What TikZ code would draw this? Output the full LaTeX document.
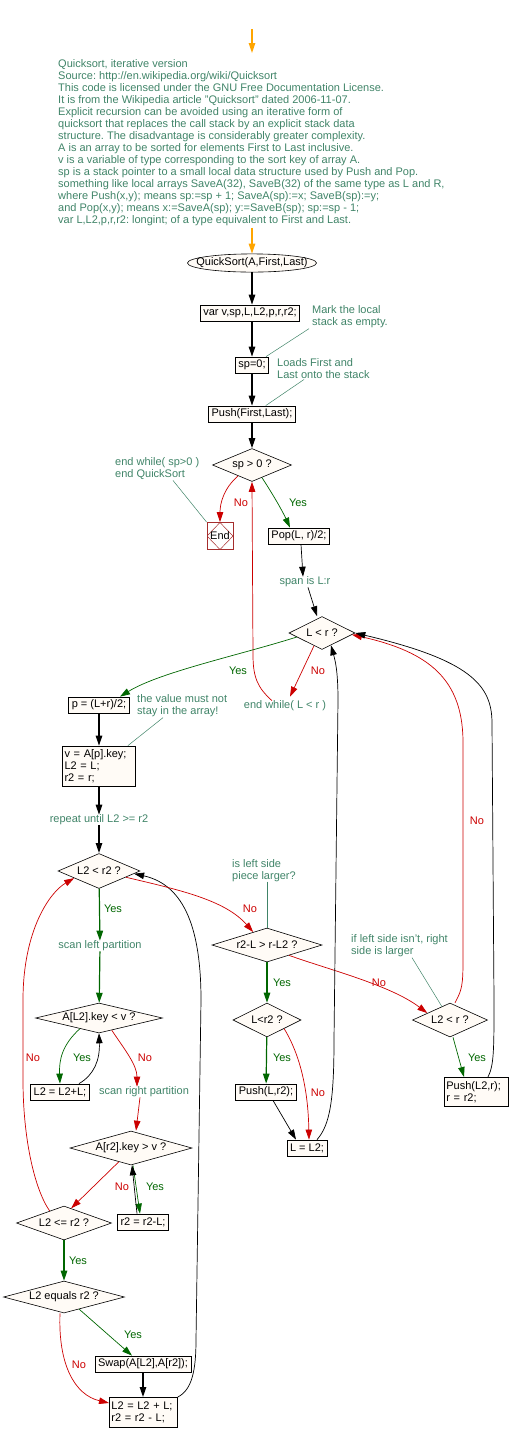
\documentclass[tikz,border=0pt]{standalone}
\usepackage{fontspec}
\setmainfont{Liberation Sans}
\usetikzlibrary{shapes.geometric,arrows.meta,calc}
\frenchspacing
\definecolor{notecol}{RGB}{64,132,104}
\definecolor{yescol}{RGB}{0,102,0}
\definecolor{nocol}{RGB}{204,0,0}
\definecolor{boxfill}{RGB}{255,251,246}
\definecolor{endcol}{RGB}{165,45,45}
\definecolor{startcol}{RGB}{255,165,0}
\tikzset{
  tip/.style={-{Triangle[length=10pt,width=6.5pt]}},
  proc/.style={draw,fill=boxfill,line width=0.8pt,inner xsep=3pt,inner ysep=2pt,minimum height=16pt},
  dec/.style={draw,diamond,fill=boxfill,line width=0.6pt,inner sep=0pt,aspect=3},
  note/.style={text=notecol,inner sep=0pt,align=left},
  yeslab/.style={text=yescol,inner sep=0pt},
  nolab/.style={text=nocol,inner sep=0pt},
  flow/.style={tip,line width=1.2pt},
  flowthin/.style={tip,line width=0.7pt},
  yesline/.style={tip,yescol,line width=0.7pt},
  noline/.style={tip,nocol,line width=0.7pt},
  leader/.style={notecol,line width=0.5pt}
}
\begin{document}
\begin{tikzpicture}[x=1pt,y=-1pt,font=\fontsize{11}{12}\selectfont]
\useasboundingbox (0,0) rectangle (510,1441);

% header and entry
\coordinate (entry) at (252,29);
\node[note,anchor=north west] (hdr) at (58,59) {Quicksort, iterative version\\
Source: http://en.wikipedia.org/wiki/Quicksort\\
This code is licensed under the GNU Free Documentation License.\\
It is from the Wikipedia article "Quicksort" dated 2006-11-07.\\
Explicit recursion can be avoided using an iterative form of\\
quicksort that replaces the call stack by an explicit stack data\\
structure. The disadvantage is considerably greater complexity.\\
A is an array to be sorted for elements First to Last inclusive.\\
v is a variable of type corresponding to the sort key of array A.\\
sp is a stack pointer to a small local data structure used by Push and Pop.\\
something like local arrays SaveA(32), SaveB(32) of the same type as L and R,\\
where Push(x,y); means sp:=sp + 1; SaveA(sp):=x; SaveB(sp):=y;\\
and Pop(x,y); means x:=SaveA(sp); y:=SaveB(sp); sp:=sp - 1;\\
var L,L2,p,r,r2: longint; of a type equivalent to First and Last.};
\node[draw,ellipse,fill=boxfill,line width=0.6pt,inner xsep=-10pt,inner ysep=1.3pt] (qs) at (252,263) {QuickSort(A,First,Last)};
\draw[tip,startcol,line width=1.2pt,shorten >=6pt] (entry) -- (entry |- hdr.north);
\draw[tip,startcol,line width=1.2pt,shorten <=2pt] (hdr.south -| qs.north) -- (qs.north);

% main column
\node[proc] (var) at (250,313) {var v,sp,L,L2,p,r,r2;};
\node[proc] (sp0) at (252,365) {sp=0;};
\node[proc] (push) at (252,414) {Push(First,Last);};
\node[dec,minimum width=79pt,minimum height=33pt] (spgt) at (252,465) {sp > 0 ?};
\node[draw=endcol,line width=0.8pt,minimum width=26pt,minimum height=27pt,inner sep=0pt,
  path picture={\draw[endcol,line width=0.5pt] (path picture bounding box.north) -- (path picture bounding box.east)
  -- (path picture bounding box.south) -- (path picture bounding box.west) -- cycle;}] (endn) at (220,536) {End};
\node[proc] (pop) at (299,536) {Pop(L, r)/2;};
\node[note] (span) at (305,582) {span is L:r};
\node[dec,minimum width=66pt,minimum height=33pt] (lr) at (322,633) {L < r ?};
\node[note] (ewlr) at (285,706) {end while( L < r )};

\node[note,anchor=north west] (nmark) at (312,305) {Mark the local\\stack as empty.};
\node[note,anchor=north west] (nload) at (277,358) {Loads First and\\Last onto the stack};
\node[note,anchor=north west] (nend) at (115,457) {end while( sp>0 )\\end QuickSort};
\draw[leader] ([xshift=-3pt,yshift=-1pt]nmark.south west) -- ([xshift=-3pt]sp0.north east);
\draw[leader] ([xshift=27pt,yshift=-1pt]nload.south west) -- ([xshift=-30pt]push.north east);
\draw[leader] ([xshift=58pt,yshift=-1pt]nend.south west) -- (endn.north west);

\draw[flow] (qs.south) -- (qs.south |- var.north);
\draw[flow] (var.south -| sp0.north) -- (sp0.north);
\draw[flow] (sp0) -- (push);
\draw[flow] (push) -- (spgt);
\draw[noline] ($(spgt.west)!0.65!(spgt.south)$) .. controls (224,488) and (220,503) .. (endn.north);
\node[nolab] (no1) at (241,503) {No};
\draw[yesline] ($(spgt.south)!0.25!(spgt.east)$) .. controls (272,493) and (282,510) .. ([xshift=-9pt]pop.north);
\node[yeslab] (yes1) at (298,503) {Yes};
\draw[flowthin] ([xshift=2pt]pop.south) -- ([xshift=-2pt]span.north);
\draw[flowthin] ([xshift=3pt]span.south) -- ([xshift=-5pt]lr.north);
\draw[noline] ([xshift=-13pt]ewlr.north) .. controls (258,688) and (253,678) .. (253,655) -- (spgt.south);

% partition setup
\node[proc] (pbox) at (99,705) {p = (L+r)/2;};
\node[proc,align=left,inner xsep=2pt,text width=69pt,minimum height=40pt] (vbox) at (99,766) {v = A[p].key;\\L2 = L;\\r2 = r;};
\node[note] (rep) at (99,820) {repeat until L2 >= r2};
\node[note,anchor=north west] (nval) at (137,694) {the value must not\\stay in the array!};
\draw[leader] ([xshift=26pt,yshift=-1pt]nval.south west) -- ([xshift=-8pt]vbox.north east);
\draw[yesline] ($(lr.west)!0.24!(lr.south)$) .. controls (240,655) and (160,672) .. ([xshift=21pt]pbox.north);
\node[yeslab] (yes2) at (238,671) {Yes};
\draw[noline] ($(lr.west)!0.76!(lr.south)$) -- ([xshift=5pt,yshift=4pt]ewlr.north);
\node[nolab] (no2) at (318,671) {No};
\draw[flow] (pbox) -- (vbox);
\draw[flow] (vbox) -- (rep);
\draw[flow] (rep) -- (rep.south |- 0,853);

% scan loop
\node[dec,minimum width=82pt,minimum height=35pt] (l2r2) at (99,871) {L2 < r2 ?};
\node[note] (scanl) at (100,946) {scan left partition};
\node[dec,aspect=4,minimum width=127pt,minimum height=30pt] (al2) at (99,1018) {A[L2].key < v ?};
\node[proc] (l2inc) at (60,1092) {L2 = L2+L;};
\node[note] (scanr) at (144,1092) {scan right partition};
\node[dec,aspect=4,minimum width=122pt,minimum height=34pt] (ar2) at (131,1148) {A[r2].key > v ?};
\node[proc] (r2dec) at (143,1222) {r2 = r2-L;};
\node[dec,minimum width=95pt,minimum height=34pt] (l2le) at (64,1223) {L2 <= r2 ?};
\node[dec,aspect=4,minimum width=121pt,minimum height=32pt] (l2eq) at (64,1297) {L2 equals r2 ?};
\node[proc] (swap) at (143,1364) {Swap(A[L2],A[r2]);};
\node[proc,anchor=north west,align=left,inner xsep=2pt,text width=64pt,minimum height=30pt] (fin) at (109,1397) {L2 = L2 + L;\\r2 = r2 - L;};

\draw[yesline,line width=1.2pt] (l2r2) -- (scanl);
\node[yeslab] (yes3) at (113,909) {Yes};
\draw[yesline,line width=1.2pt] (scanl) -- (al2);
\draw[yesline] ($(al2.west)!0.7!(al2.south)$) .. controls (62,1045) and (59,1060) .. (l2inc.north);
\node[yeslab] (yes5) at (82,1058) {Yes};
\draw[flowthin] ([xshift=19pt]l2inc.north) .. controls (94,1075) and (100,1060) .. (al2.south);
\draw[noline] ($(al2.south)!0.2!(al2.east)$) .. controls (125,1050) and (137,1065) .. ([xshift=-7pt]scanr.north);
\node[nolab] (no5) at (145,1058) {No};
\draw[noline] ([xshift=-4pt]scanr.south) -- ([xshift=5pt]ar2.north);
\draw[noline] ($(ar2.south)!0.2!(ar2.west)$) -- ($(l2le.north)!0.15!(l2le.east)$);
\node[nolab] (no8) at (122,1187) {No};
\draw[yesline] ([xshift=2pt]ar2.south) -- ([xshift=-3pt]r2dec.north);
\node[yeslab] (yes8) at (155,1187) {Yes};
\draw[flowthin] ([xshift=-6pt]r2dec.north) -- ([xshift=1pt]ar2.south);
\draw[noline] ($(l2le.north)!0.3!(l2le.west)$) .. controls (35,1190) and (23,1140) .. (23,1080)
  -- (23,1000) .. controls (23,930) and (50,892) .. ($(l2r2.west)!0.4!(l2r2.south)$);
\node[nolab] (no7) at (33,1058) {No};
\draw[yesline,line width=1.2pt] (l2le) -- (l2eq);
\node[yeslab] (yes9) at (78,1261) {Yes};
\draw[yesline] ($(l2eq.south)!0.25!(l2eq.east)$) -- ([xshift=-11pt]swap.north);
\node[yeslab] (yes10) at (133,1335) {Yes};
\draw[noline] ([xshift=-4pt]l2eq.south) .. controls (58,1365) and (75,1395) .. ([yshift=-6pt]fin.north west);
\node[nolab] (no9) at (79,1365) {No};
\draw[flow] (swap) -- (swap.south |- fin.north);
\draw[flowthin] (fin.north east) .. controls (192,1390) and (196,1370) .. (196,1340)
  -- (201,1000) .. controls (201,930) and (185,885) .. ($(l2r2.east)!0.15!(l2r2.south)$);

% split the partition
\node[dec,aspect=4,minimum width=110pt,minimum height=34pt] (cmp) at (267,945) {r2-L > r-L2 ?};
\node[dec,minimum width=68pt,minimum height=34pt] (lr2) at (267,1020) {L<r2 ?};
\node[proc] (pushl) at (266,1092) {Push(L,r2);};
\node[proc] (lset) at (307,1148) {L = L2;};
\node[dec,minimum width=75pt,minimum height=34pt] (l2r) at (450,1020) {L2 < r ?};
\node[proc,anchor=north west,align=left,inner xsep=2pt,text width=60pt,minimum height=29pt] (pushr) at (444,1077) {Push(L2,r);\\r = r2;};
\node[note,anchor=north west] (nleft) at (232,859) {is left side\\piece larger?};
\node[note,anchor=north west] (nright) at (351,934) {if left side isn't, right\\side is larger};
\draw[leader] (nleft.south -| cmp.north) -- (cmp.north);
\draw[leader] ([xshift=61pt,yshift=-1pt]nright.south west) -- ([xshift=-8pt,yshift=-4pt]l2r.north);

\draw[noline] ($(l2r2.east)!0.35!(l2r2.south)$) .. controls (180,890) and (225,900) .. ($(cmp.north)!0.25!(cmp.west)$);
\node[nolab] (no3) at (250,909) {No};
\draw[yesline,line width=1.2pt] (cmp) -- (lr2);
\node[yeslab] (yes4) at (282,983) {Yes};
\draw[noline] ($(cmp.south)!0.4!(cmp.east)$) .. controls (330,970) and (390,985) .. ($(l2r.north)!0.6!(l2r.west)$);
\node[nolab] (no4) at (379,983) {No};
\draw[yesline,line width=1.2pt] (lr2) -- (pushl);
\node[yeslab] (yes6) at (282,1058) {Yes};
\draw[noline] ($(lr2.east)!0.5!(lr2.south)$) .. controls (296,1048) and (308,1080) .. ([xshift=2pt]lset.north);
\node[nolab] (no6) at (318,1093) {No};
\draw[flowthin] ([xshift=7pt]pushl.south) -- ([xshift=-11pt]lset.north);
\draw[flowthin] ([xshift=10pt]lset.north) .. controls (330,1125) and (334,1100) .. (334,1040)
  -- (338,700) .. controls (338,670) and (335,660) .. ($(lr.south)!0.27!(lr.east)$);
\draw[yesline] ([xshift=3pt]l2r.south) -- ([xshift=20pt]pushr.north west);
\node[yeslab] (yes7) at (477,1058) {Yes};
\draw[noline] ([xshift=5pt]l2r.north) .. controls (462,990) and (463,985) .. (463,960)
  -- (463,740) .. controls (462,680) and (430,652) .. ($(lr.east)!0.1!(lr.south)$);
\node[nolab] (no10) at (477,821) {No};
\draw[flowthin] ([xshift=44pt]pushr.north west) .. controls (494,1065) and (494,1050) .. (494,1000)
  -- (492,723) .. controls (492,685) and (470,660) .. (lr.east);
\end{tikzpicture}
\end{document}
